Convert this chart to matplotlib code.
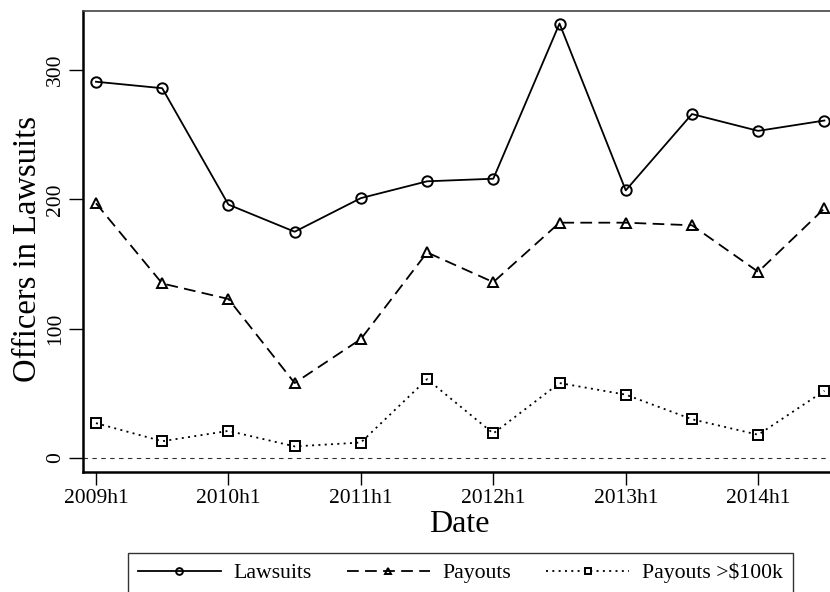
import matplotlib.pyplot as plt

periods = ['2009h1', '2009h2', '2010h1', '2010h2', '2011h1', '2011h2',
           '2012h1', '2012h2', '2013h1', '2013h2', '2014h1', '2014h2']
lawsuits = [291, 286, 196, 175, 201, 214, 216, 336, 207, 266, 253, 261]
payouts = [197, 135, 123, 58, 92, 159, 136, 182, 182, 180, 144, 193]
payouts_100k = [27, 13, 21, 9, 12, 61, 19, 58, 49, 30, 18, 52]
y_ticks = [0, 100, 200, 300]

plt.rcParams['font.family'] = ['Liberation Serif', 'DejaVu Serif']

W, H = 830, 592
fig = plt.figure(figsize=(W / 100, H / 100), dpi=100)
ax = fig.add_axes([83 / W, (H - 472) / H, (835 - 83) / W, (472 - 11) / H])

x = list(range(len(periods)))
mk = dict(markerfacecolor='none', markeredgecolor='black', markeredgewidth=1.4,
          markersize=7.5, color='black', linewidth=1.3)
ax.plot(x, lawsuits, marker='o', linestyle='-', label='Lawsuits', **mk)
ax.plot(x, payouts, marker='^', dashes=(6.5, 3.5), label='Payouts', **mk)
ax.plot(x, payouts_100k, marker='s', dashes=(1.1, 2.4), label='Payouts >$100k', **mk)

# zero reference line
ax.axhline(0, color='#333333', linewidth=0.8, dashes=(4, 4), zorder=0)

ax.set_xlim(-0.196, 11.16)
ax.set_ylim(-10.8, 345.7)

ax.set_xticks(x[::2])
ax.set_xticklabels(periods[::2], fontsize=15.5)
ax.set_yticks(y_ticks)
ax.set_yticklabels([str(v) for v in y_ticks], fontsize=15.5, rotation=90, va='center')
ax.tick_params(axis='x', length=9, width=1, pad=3)
ax.tick_params(axis='y', length=10, width=1, pad=3)

for s in ['left', 'bottom']:
    ax.spines[s].set_linewidth(1.8)
ax.spines['top'].set_linewidth(1.2)
ax.spines['top'].set_color('#444444')
ax.spines['right'].set_visible(False)

ax.set_xlabel('Date', fontsize=23, labelpad=2)
ax.set_ylabel('Officers in Lawsuits', fontsize=23.5)
ax.yaxis.set_label_coords(-0.053, 0.483)

leg = ax.legend(loc='upper center', bbox_to_anchor=(460.5 / W, 1 - 553 / H),
                bbox_transform=fig.transFigure, borderaxespad=0, ncol=3,
                fontsize=15.7, frameon=True, fancybox=False, edgecolor='black',
                handlelength=3.8, handletextpad=0.6, columnspacing=1.6,
                borderpad=0.45, markerscale=0.65, numpoints=1)
leg.get_frame().set_linewidth(1.0)

fig.savefig('out.png', dpi=100)
